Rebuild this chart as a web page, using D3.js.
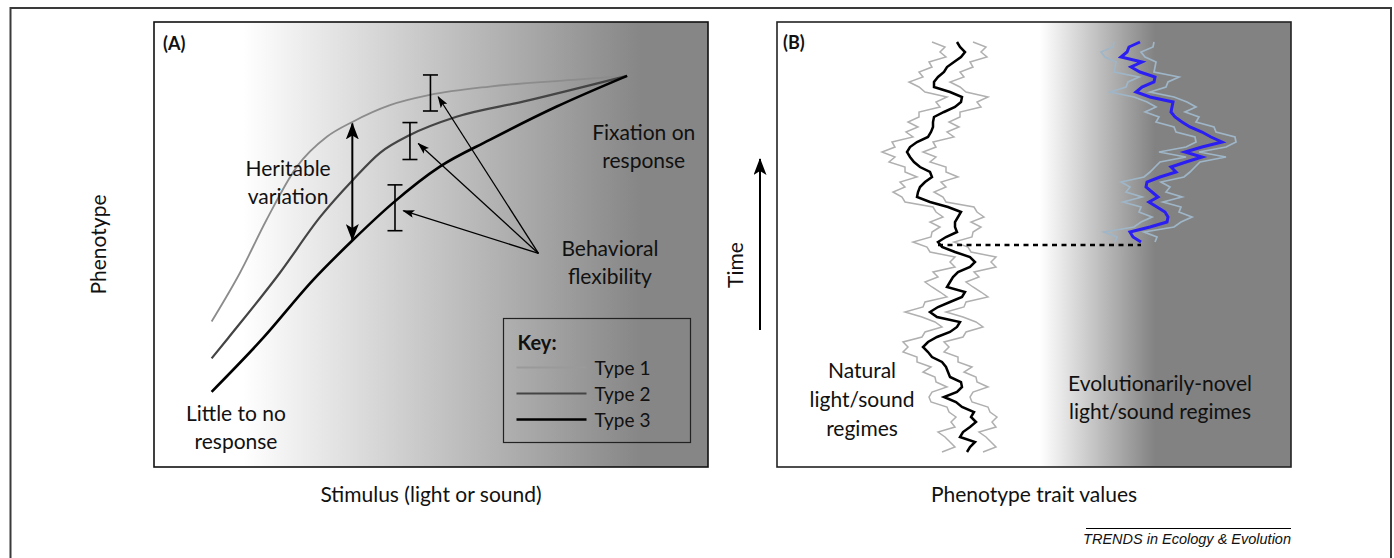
<!DOCTYPE html>
<html lang="en">
<head>
<meta charset="UTF-8">
<title>Phenotype responses to light and sound</title>
<script src="https://d3js.org/d3.v7.min.js"></script>
<style>
  body { margin: 0; background: #fff; }
  svg text { font-family: Lato, "Open Sans", sans-serif; fill: #111; }
</style>
</head>
<body>
<svg id="figure" width="1394" height="558"></svg>
<script>
// ---------- panel A data (stimulus 0-100, phenotype 0-100) ----------
const typeNames = ["Type 1", "Type 2", "Type 3"];
const typeColors = ["#8c8c8c", "#444444", "#000000"];
const stimType1 = [10.4, 15.5, 20.3, 25.8, 31.2, 35.9, 42.6, 49.8, 60.6, 75.6, 85.4];
const phenType1 = [32.7, 43.6, 55.5, 67.5, 74.2, 77.6, 81.3, 83.6, 85.5, 87.0, 87.9];
const stimType2 = [10.4, 13.4, 22.7, 30.0, 35.9, 40.8, 46.2, 54.6, 66.6, 85.4];
const phenType2 = [24.4, 29.0, 43.6, 56.2, 64.5, 70.6, 74.6, 78.7, 82.1, 87.9];
const stimType3 = [10.4, 19.7, 28.7, 35.9, 43.1, 51.6, 60.6, 72.7, 85.4];
const phenType3 = [16.9, 29.0, 42.0, 51.0, 59.3, 67.5, 73.5, 81.0, 87.9];

// behavioural flexibility bars
const flexStim = [49.9, 46.2, 43.5];
const flexLow = [80.0, 69.1, 53.1];
const flexHigh = [88.1, 77.4, 63.4];
const flexLabelPoint = [69.4, 48.0];
const flexTipStim = [51.3, 47.7, 45.0];
const flexTipPhen = [83.2, 72.7, 57.6];
// heritable variation arrow
const heritStim = 35.8, heritLow = 51.0, heritHigh = 77.2;

// ---------- panel B data (trait units 0-514, time steps) ----------
const naturalMean = [190,193,198,183,186,193,199,194,197,185,179,167,180,185,184,173,171,169,165,155,151,146,151,160,173,180,183,160,153,161,173,185,188,170,173,176,181,193,198,193,178,165,161,169,180,178,178,181,184,171,153,140,141,143,148,155,153,143,137,133,130,133,140,151,154,156,156,157,167,178,184,185,173,157,157,161,167,170,177,184,188,183,180];
const naturalLow = [165,178,173,168,161,178,174,179,172,170,154,152,155,170,159,158,146,154,140,140,126,131,126,145,148,165,158,145,128,146,148,170,163,155,148,161,156,178,173,178,153,150,136,154,155,163,153,166,159,156,128,125,116,128,123,140,128,128,112,118,105,118,115,136,129,141,131,142,142,163,159,170,148,142,132,146,142,155,152,169,163,168,155];
const naturalHigh = [206,219,214,209,202,219,215,220,213,211,195,193,196,211,200,199,187,195,181,181,167,172,167,186,189,206,199,186,169,187,189,211,204,196,189,202,197,219,214,219,194,191,177,195,196,204,194,207,200,197,169,166,157,169,164,181,169,169,153,159,146,159,156,177,170,182,172,183,183,204,200,211,189,183,173,187,183,196,193,210,204,209,196];
const novelStart = 42;
const novelMean = [364,356,353,373,390,391,388,380,372,381,375,369,370,383,399,394,409,425,408,425,445,434,425,413,405,398,394,395,396,373,359,365,377,378,363,354,365,344,350,352,363];
const novelLow = [338,340,327,357,364,375,362,364,346,365,349,353,344,367,373,378,383,409,382,409,419,418,399,397,379,382,368,379,370,357,333,349,351,362,337,338,339,328,324,336,337];
const novelHigh = [378,380,367,397,404,415,402,404,386,405,389,393,384,407,413,418,423,449,422,449,459,458,439,437,419,422,408,419,410,397,373,389,391,402,377,378,379,368,364,376,377];
const switchTime = 41.4, switchFrom = 161, switchTo = 364;

// ---------- layout ----------
const panelA = { x0: 154, x1: 708, y0: 22, y1: 467 };
const panelB = { x0: 777, x1: 1291, y0: 22, y1: 467 };
const fontSize = 21;
const lineH = 28;

const svg = d3.select("#figure");
const defs = svg.append("defs");

const xA = d3.scaleLinear().domain([0, 100]).range([panelA.x0, panelA.x1]);
const yA = d3.scaleLinear().domain([0, 100]).range([panelA.y1, panelA.y0]);
const xB = d3.scaleLinear().domain([0, 514]).range([panelB.x0, panelB.x1]);
const tB = d3.scaleLinear().domain([-3, 86]).range([panelB.y1, panelB.y0]);

// background shading
function shade(id, x1, x2, dark) {
    const g = defs.append("linearGradient").attr("id", id)
        .attr("gradientUnits", "userSpaceOnUse")
        .attr("x1", x1).attr("x2", x2).attr("y1", 0).attr("y2", 0);
    g.append("stop").attr("offset", 0).attr("stop-color", "#ffffff");
    g.append("stop").attr("offset", 1).attr("stop-color", dark);
}
shade("shadeA", xA(16), xA(88), "#868686");
shade("shadeB", xB(263), xB(378), "#828282");

function addMarker(id, w, h, d) {
    defs.append("marker").attr("id", id)
        .attr("viewBox", `0 0 ${w} ${h}`)
        .attr("markerWidth", w).attr("markerHeight", h)
        .attr("markerUnits", "userSpaceOnUse")
        .attr("refX", w - 1).attr("refY", h / 2)
        .attr("orient", "auto-start-reverse")
        .append("path").attr("d", d).attr("fill", "#000");
}
addMarker("bigHead", 17, 13, "M0,0 L17,6.5 L0,13 L4,6.5 Z");
addMarker("smallHead", 12, 8, "M0,0 L12,4 L0,8 L2.5,4 Z");

function multiLine(x, y, lines, size) {
    const t = svg.append("text").attr("x", x).attr("y", y)
        .attr("text-anchor", "middle").style("font-size", (size || fontSize) + "px");
    lines.forEach((s, i) => t.append("tspan").attr("x", x).attr("dy", i ? lineH : 0).text(s));
    return t;
}

// outer frame
svg.append("rect").attr("x", 10.5).attr("y", 8).attr("width", 1380.5).attr("height", 570)
    .attr("fill", "none").attr("stroke", "#3a3a3a").attr("stroke-width", 2);

// ================= PANEL A =================
svg.append("rect").attr("x", panelA.x0).attr("y", panelA.y0)
    .attr("width", panelA.x1 - panelA.x0).attr("height", panelA.y1 - panelA.y0)
    .attr("fill", "url(#shadeA)");

const curveA = d3.line().x(d => xA(d[0])).y(d => yA(d[1])).curve(d3.curveMonotoneX);
const typeData = [d3.zip(stimType1, phenType1), d3.zip(stimType2, phenType2), d3.zip(stimType3, phenType3)];
const typeWidths = [1.8, 2.2, 2.6];
typeData.forEach((pts, i) => {
    svg.append("path").datum(pts).attr("d", curveA)
        .attr("fill", "none").attr("stroke", typeColors[i]).attr("stroke-width", typeWidths[i]);
});

// flexibility bars
flexStim.forEach((s, i) => {
    const g = svg.append("g").attr("stroke", "#000").attr("stroke-width", 1.6);
    g.append("line").attr("x1", xA(s)).attr("x2", xA(s)).attr("y1", yA(flexLow[i])).attr("y2", yA(flexHigh[i]));
    [flexLow[i], flexHigh[i]].forEach(v => {
        g.append("line").attr("x1", xA(s) - 7.5).attr("x2", xA(s) + 7.5).attr("y1", yA(v)).attr("y2", yA(v));
    });
});

// arrows from label to the bars
flexTipStim.forEach((s, i) => {
    svg.append("line")
        .attr("x1", xA(flexLabelPoint[0])).attr("y1", yA(flexLabelPoint[1]))
        .attr("x2", xA(s)).attr("y2", yA(flexTipPhen[i]))
        .attr("stroke", "#000").attr("stroke-width", 1.3)
        .attr("marker-end", "url(#smallHead)");
});

// heritable variation double arrow
svg.append("line")
    .attr("x1", xA(heritStim)).attr("x2", xA(heritStim))
    .attr("y1", yA(heritLow)).attr("y2", yA(heritHigh))
    .attr("stroke", "#000").attr("stroke-width", 2)
    .attr("marker-start", "url(#bigHead)").attr("marker-end", "url(#bigHead)");

multiLine(xA(24.2), yA(65.4), ["Heritable", "variation"]);
multiLine(xA(88.4), yA(73.5), ["Fixation on", "response"]);
multiLine(xA(82.3), yA(47.4), ["Behavioral", "flexibility"]);
multiLine(xA(14.8), yA(10.3), ["Little to no", "response"]);

// key
const key = svg.append("g").attr("transform", "translate(503.5,318.5)");
key.append("rect").attr("width", 187).attr("height", 124)
    .attr("fill", "none").attr("stroke", "#222").attr("stroke-width", 1.2);
key.append("text").attr("x", 14).attr("y", 31).style("font-size", "20px").style("font-weight", "bold").text("Key:");
typeNames.forEach((n, i) => {
    const y = 49 + i * 26;
    key.append("line").attr("x1", 13).attr("x2", 83).attr("y1", y).attr("y2", y)
        .attr("stroke", i === 0 ? "#9a9a9a" : typeColors[i]).attr("stroke-width", typeWidths[i]);
    key.append("text").attr("x", 91).attr("y", y + 7).style("font-size", "19px").text(n);
});

svg.append("rect").attr("x", panelA.x0).attr("y", panelA.y0)
    .attr("width", panelA.x1 - panelA.x0).attr("height", panelA.y1 - panelA.y0)
    .attr("fill", "none").attr("stroke", "#111").attr("stroke-width", 1.6);
svg.append("text").attr("x", panelA.x0 + 9).attr("y", 50)
    .style("font-size", "18px").style("font-weight", "bold").text("(A)");

svg.append("text").attr("transform", `translate(106,${(panelA.y0 + panelA.y1) / 2}) rotate(-90)`)
    .attr("text-anchor", "middle").style("font-size", fontSize + "px").text("Phenotype");
svg.append("text").attr("x", (panelA.x0 + panelA.x1) / 2).attr("y", 502)
    .attr("text-anchor", "middle").style("font-size", fontSize + "px").text("Stimulus (light or sound)");

// ================= PANEL B =================
svg.append("rect").attr("x", panelB.x0).attr("y", panelB.y0)
    .attr("width", panelB.x1 - panelB.x0).attr("height", panelB.y1 - panelB.y0)
    .attr("fill", "url(#shadeB)");

const walk = start => d3.line().x(d => xB(d)).y((d, i) => tB(start + i));

[naturalLow, naturalHigh].forEach(s => {
    svg.append("path").datum(s).attr("d", walk(0))
        .attr("fill", "none").attr("stroke", "#b0b0b0").attr("stroke-width", 1.5);
});
[novelLow, novelHigh].forEach(s => {
    svg.append("path").datum(s).attr("d", walk(novelStart))
        .attr("fill", "none").attr("stroke", "#9fb6c8").attr("stroke-width", 1.7);
});
svg.append("path").datum(naturalMean).attr("d", walk(0))
    .attr("fill", "none").attr("stroke", "#000").attr("stroke-width", 2.5);
svg.append("path").datum(novelMean).attr("d", walk(novelStart))
    .attr("fill", "none").attr("stroke", "#2a1ef2").attr("stroke-width", 3);

svg.append("line")
    .attr("x1", xB(switchFrom)).attr("x2", xB(switchTo))
    .attr("y1", tB(switchTime)).attr("y2", tB(switchTime))
    .attr("stroke", "#000").attr("stroke-width", 2.6).attr("stroke-dasharray", "5,4.5");

multiLine(xB(85), tB(14.8), ["Natural", "light/sound", "regimes"]).selectAll("tspan").attr("dy", (d, i) => i ? 29 : 0);
multiLine(xB(383), tB(12.2), ["Evolutionarily-novel", "light/sound regimes"]);

svg.append("rect").attr("x", panelB.x0).attr("y", panelB.y0)
    .attr("width", panelB.x1 - panelB.x0).attr("height", panelB.y1 - panelB.y0)
    .attr("fill", "none").attr("stroke", "#222").attr("stroke-width", 1.6);
svg.append("text").attr("x", panelB.x0 + 6).attr("y", 49)
    .style("font-size", "18px").style("font-weight", "bold").text("(B)");

// time axis
svg.append("line").attr("x1", panelB.x0 - 17).attr("x2", panelB.x0 - 17)
    .attr("y1", tB(24.4)).attr("y2", tB(58.6))
    .attr("stroke", "#000").attr("stroke-width", 2).attr("marker-end", "url(#bigHead)");
svg.append("text").attr("transform", `translate(743,265) rotate(-90)`)
    .attr("text-anchor", "middle").style("font-size", fontSize + "px").text("Time");
svg.append("text").attr("x", (panelB.x0 + panelB.x1) / 2).attr("y", 502)
    .attr("text-anchor", "middle").style("font-size", fontSize + "px").text("Phenotype trait values");

// footer
svg.append("line").attr("x1", 1086).attr("x2", panelB.x1).attr("y1", 528.5).attr("y2", 528.5)
    .attr("stroke", "#000").attr("stroke-width", 1);
svg.append("text").attr("x", panelB.x1).attr("y", 544).attr("text-anchor", "end")
    .style("font-family", "'Liberation Sans', Arial, sans-serif").style("font-style", "italic")
    .style("font-size", "14.5px").text("TRENDS in Ecology & Evolution");
</script>
</body>
</html>
